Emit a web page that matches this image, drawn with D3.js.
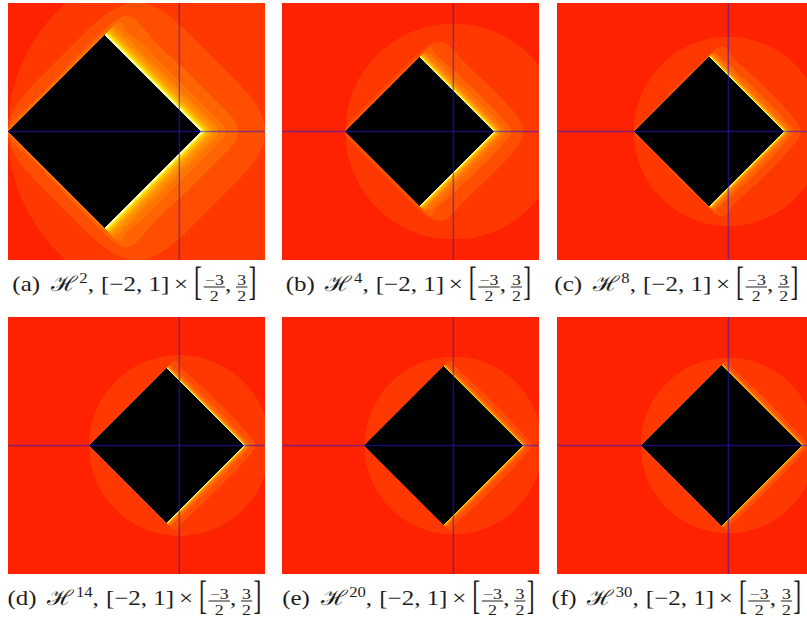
<!DOCTYPE html>
<html>
<head>
<meta charset="utf-8">
<script src="https://cdn.jsdelivr.net/npm/d3@7"></script>
<style>
  body { margin: 0; background: #fff; }
  svg { display: block; }
  text { font-family: "Liberation Serif", "DejaVu Serif", serif; fill: #1e1e1e; }
</style>
</head>
<body>
<svg id="fig" width="807" height="621"></svg>
<script>
// panels: label letter and exponent of the hyperbolic map z -> z^n + c
const letters = ["a", "b", "c", "d", "e", "f"];
const powers = [2, 4, 8, 14, 20, 30];
// plotted window [-2,1] x [-3/2,3/2]
const xDomain = [-2, 1];
const yDomain = [-1.5, 1.5];
// caption pieces for the window
const xRangeText = "[−2, 1]";
const yLowFrac = ["−3", "2"];
const yHighFrac = ["3", "2"];
// escape-time colours (iteration count -> colour)
const colorStops = ["#ff2200", "#ff6400", "#ffa800", "#ffe000", "#ffff70", "#ffffd0"];
const colorIters = [1, 4, 8, 12, 17, 24];
const maxIter = 200;

const svg = d3.select("#fig");
const size = 257;
const colX = [8, 282, 557];
const rowY = [3, 317];
const captionX = [134, 408, 676];

const xs = d3.scaleLinear().domain(xDomain).range([0, size]);
const ys = d3.scaleLinear().domain(yDomain).range([size, 0]);
const iterColor = d3.scaleLinear().domain(colorIters).range(colorStops).clamp(true);

// hyperbolic numbers: in the null basis u = x+y, v = x-y the power is taken per component
function escapeTime(cx, cy, n, r2) {
  const cu = cx + cy, cv = cx - cy;
  let u = 0, v = 0;
  for (let k = 1; k <= maxIter; k++) {
    u = Math.pow(u, n) + cu;
    v = Math.pow(v, n) + cv;
    const x = (u + v) / 2, y = (u - v) / 2;
    if (x * x + y * y > r2) return k;
  }
  return 0;
}

function renderImage(n) {
  const canvas = document.createElement("canvas");
  canvas.width = size; canvas.height = size;
  const ctx = canvas.getContext("2d");
  const img = ctx.createImageData(size, size);
  const r = Math.pow(2, 1 / (n - 1));
  const cache = new Map();
  for (let j = 0; j < size; j++) {
    const cy = ys.invert(j + 0.5);
    for (let i = 0; i < size; i++) {
      const cx = xs.invert(i + 0.5);
      const k = escapeTime(cx, cy, n, r * r);
      let rgb;
      if (k === 0) rgb = [0, 0, 0];
      else {
        if (!cache.has(k)) { const c = d3.rgb(iterColor(k)); cache.set(k, [c.r, c.g, c.b]); }
        rgb = cache.get(k);
      }
      const p = (j * size + i) * 4;
      img.data[p] = rgb[0]; img.data[p + 1] = rgb[1]; img.data[p + 2] = rgb[2]; img.data[p + 3] = 255;
    }
  }
  ctx.putImageData(img, 0, 0);
  return canvas.toDataURL();
}

function caption(cx, base, letter, n) {
  const g = svg.append("g");
  let x = 0;
  const put = (str, fs, dy, fam) => {
    const t = g.append("text").attr("x", x).attr("y", dy).style("font-size", fs + "px").text(str);
    if (fam) t.style("font-family", fam);
    x += t.node().getComputedTextLength();
    return t;
  };
  const bracket = (ch) => {
    g.append("text").attr("transform", `translate(${x},-6) scale(1,1.95)`)
      .attr("y", 5).style("font-size", "20px").text(ch);
    x += 6;
  };
  const frac = (num, den) => {
    const a = g.append("text").attr("y", -6.5).attr("text-anchor", "middle").style("font-size", "15px").text(num);
    const b = g.append("text").attr("y", 9.5).attr("text-anchor", "middle").style("font-size", "15px").text(den);
    const ww = Math.max(a.node().getComputedTextLength(), b.node().getComputedTextLength()) + 2;
    a.attr("x", x + ww / 2); b.attr("x", x + ww / 2);
    g.append("line").attr("x1", x).attr("x2", x + ww).attr("y1", -4).attr("y2", -4)
      .attr("stroke", "#1e1e1e").attr("stroke-width", 1);
    x += ww;
  };
  put(`(${letter})`, 21, 0);
  x += 9;
  put("ℋ", 21, 0, "DejaVu Serif");
  x += 2;
  put(String(n), 14, -8);
  put(",", 21, 0);
  x += 6;
  put(xRangeText, 21, 0);
  x += 4;
  put("×", 21, 0);
  x += 5;
  bracket("[");
  x += 2;
  frac(yLowFrac[0], yLowFrac[1]);
  put(",", 21, 0);
  x += 4;
  frac(yHighFrac[0], yHighFrac[1]);
  x += 1;
  bracket("]");
  const sx = 1.19;
  g.attr("transform", `translate(${cx - sx * x / 2},${base}) scale(${sx},1)`);
}

powers.forEach((n, idx) => {
  const col = idx % 3, px = colX[col], py = rowY[Math.floor(idx / 3)];
  const panel = svg.append("g").attr("transform", `translate(${px},${py})`);
  panel.append("image").attr("width", size).attr("height", size).attr("href", renderImage(n));
  panel.append("line")
    .attr("x1", xs(0)).attr("x2", xs(0)).attr("y1", 0).attr("y2", size)
    .attr("stroke", "#2a18c8").attr("stroke-opacity", 0.55).attr("stroke-width", 1.5);
  panel.append("line")
    .attr("x1", 0).attr("x2", size).attr("y1", ys(0)).attr("y2", ys(0))
    .attr("stroke", "#2a18c8").attr("stroke-opacity", 0.55).attr("stroke-width", 1.5);
  caption(captionX[col], py + size + 31, letters[idx], n);
});
</script>
</body>
</html>
